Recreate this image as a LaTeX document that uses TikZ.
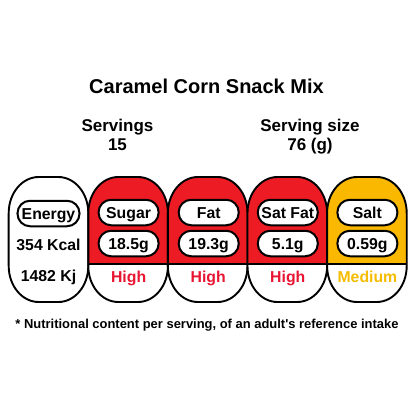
\documentclass[tikz,border=0pt]{standalone}
\usepackage{fontspec}
\setmainfont{Liberation Sans}
\definecolor{hired}{RGB}{237,28,36}
\definecolor{hitext}{RGB}{232,22,50}
\definecolor{medamber}{RGB}{250,185,0}
\definecolor{medtext}{RGB}{245,188,0}
\newcommand\capsuleshape{(-39.8,213) .. controls (-39.8,193.1) and (-26.37,177) .. (-9.8,177) -- (9.8,177) .. controls (26.37,177) and (39.8,193.1) .. (39.8,213) -- (39.8,266) .. controls (39.8,285.9) and (26.37,302) .. (9.8,302) -- (-9.8,302) .. controls (-26.37,302) and (-39.8,285.9) .. (-39.8,266) -- cycle}
\newcommand\drawcapsule[2]{%
  \begin{scope}[shift={(#1,0)}]
    \fill[white] \capsuleshape;
    \begin{scope}
      \clip (-50,150) rectangle (50,264);
      \fill[#2] \capsuleshape;
    \end{scope}
    \draw[capline] \capsuleshape;
  \end{scope}}
\newcommand\drawcapsulesplit[2]{%
  \drawcapsule{#1}{#2}%
  \begin{scope}[shift={(#1,0)}]
    \draw[capline] (-39.8,264) -- (39.8,264);
  \end{scope}}
\tikzset{
  capline/.style={line width=1.9bp, black},
  pill/.style={draw=black, line width=2bp, fill=white, rounded corners=12.5bp,
    minimum width=60bp, minimum height=25.5bp, inner sep=0pt,
    text height=11.2bp, text depth=0pt, font=\fontsize{15.8bp}{18bp}\selectfont\bfseries},
  captext/.style={anchor=base, font=\fontsize{15.8bp}{18bp}\selectfont\bfseries},
  head/.style={anchor=base, font=\fontsize{17bp}{20bp}\selectfont\bfseries},
}
\begin{document}
\begin{tikzpicture}[x=1bp, y=-1bp]
\useasboundingbox (0,0) rectangle (414,414);
\fill[white] (0,0) rectangle (414,414);
\node[anchor=base, font=\fontsize{20bp}{24bp}\selectfont\bfseries] (title) at (206.5,93) {Caramel Corn Snack Mix};
\node[head] (servl) at (117.5,131.7) {Servings};
\node[head] (servv) at (117.5,150.5) {15};
\node[head] (sizel) at (310,131.7) {Serving size};
\node[head] (sizev) at (310,150.5) {76 (g)};
% capsules
\drawcapsule{48.5}{white}
\drawcapsulesplit{128.1}{hired}
\drawcapsulesplit{207.7}{hired}
\drawcapsulesplit{287.3}{hired}
\drawcapsulesplit{366.9}{medamber}
% energy
\node[pill, minimum width=62bp] (energy) at (48.5,213.5) {Energy};
\node[captext] (kcal) at (48.5,250) {354 Kcal};
\node[captext] (kj) at (48.5,281.7) {1482 Kj};
% sugar
\node[pill] (sugar) at (128.6,212.5) {Sugar};
\node[pill] (sugarv) at (128.6,243.5) {18.5g};
\node[captext, text=hitext] (sugarl) at (128.6,282) {High};
% fat
\node[pill] (fat) at (208.7,212.5) {Fat};
\node[pill] (fatv) at (208.7,243.5) {19.3g};
\node[captext, text=hitext] (fatl) at (208.2,282) {High};
% sat fat
\node[pill] (sfat) at (287.8,212.5) {Sat Fat};
\node[pill] (sfatv) at (287.8,243.5) {5.1g};
\node[captext, text=hitext] (sfatl) at (287.8,282) {High};
% salt
\node[pill] (salt) at (367.4,212.5) {Salt};
\node[pill] (saltv) at (367.4,243.5) {0.59g};
\node[captext, text=medtext] (saltl) at (367.4,282) {Medium};
% footnote
\node[anchor=base, font=\fontsize{12.95bp}{15bp}\selectfont\bfseries] (note) at (207,328) {* Nutritional content per serving, of an adult\textquotesingle s reference intake};
\end{tikzpicture}
\end{document}
